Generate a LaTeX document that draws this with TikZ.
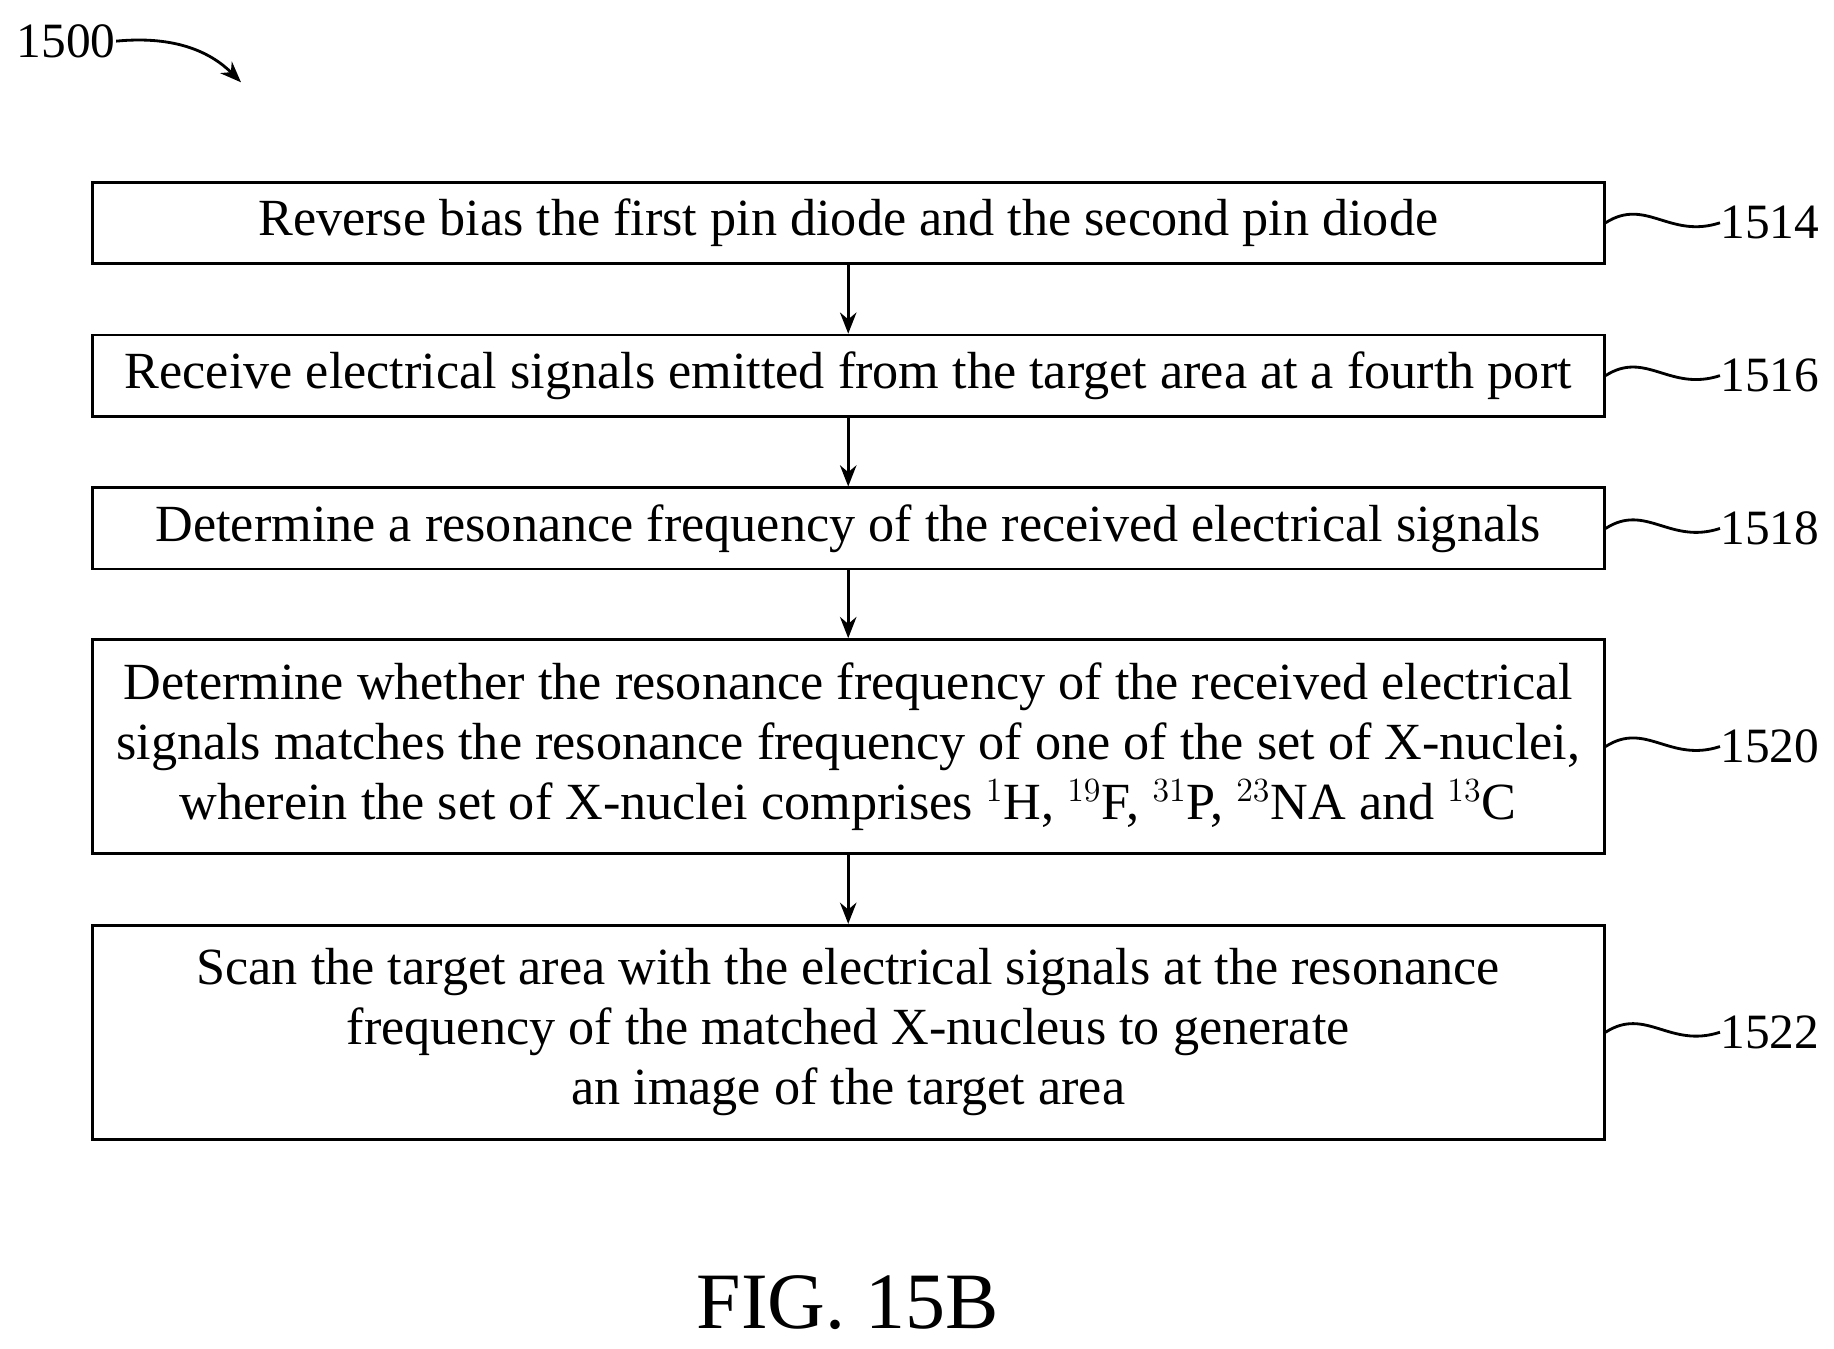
\documentclass[tikz,border=0pt]{standalone}
\usepackage{fontspec}
\setmainfont{Liberation Serif}
\usetikzlibrary{arrows.meta}
\begin{document}
\begin{tikzpicture}[x=0.5pt,y=-0.5pt,
  box/.style={draw,line width=1.2pt,minimum width=643pt,align=center,font=\fontsize{22.2}{25.5}\selectfont,inner sep=0pt},
  arr/.style={-{Stealth[length=9pt,width=7pt]},line width=1.2pt},
  lab/.style={font=\fontsize{21}{24}\selectfont,anchor=west,inner sep=0pt},
  sq/.style={line width=1.2pt}]
\useasboundingbox (0,0) rectangle (1560,1147);
\node[box,minimum height=34.5pt] (b1) at (721.5,189.5) {Reverse bias the first pin diode and the second pin diode};
\node[box,minimum height=34.5pt] (b2) at (721.5,319.5) {Receive electrical signals emitted from the target area at a fourth port};
\node[box,minimum height=34.5pt] (b3) at (721.5,449.5) {Determine a resonance frequency of the received electrical signals};
\node[box,minimum height=91pt] (b4) at (721.5,635) {Determine whether the resonance frequency of the received electrical\\signals matches the resonance frequency of one of the set of X-nuclei,\\wherein the set of X-nuclei comprises $^{1}$H, $^{19}$F, $^{31}$P, $^{23}$NA and $^{13}$C};
\node[box,minimum height=91pt] (b5) at (721.5,878) {Scan the target area with the electrical signals at the resonance\\frequency of the matched X-nucleus to generate\\an image of the target area};
\draw[arr] (b1) -- (b2);
\draw[arr] (b2) -- (b3);
\draw[arr] (b3) -- (b4);
\draw[arr] (b4) -- (b5);
\foreach \b/\t/\y in {b1/1514/189.5,b2/1516/319.5,b3/1518/449.5,b4/1520/635,b5/1522/878}{
  \node[lab] (l\t) at (1463,\y) {\t};
  \draw[sq] (\b.east) .. controls (1400,\y-22) and (1420,\y+14) .. (l\t.west);
}
\node[lab] (n1500) at (14,35) {1500};
\draw[arr] (n1500.east) .. controls (150,30) and (180,45) .. (205,70);
\node[font=\fontsize{34}{40}\selectfont] (fig) at (721,1108) {FIG. 15B};
\end{tikzpicture}
\end{document}
